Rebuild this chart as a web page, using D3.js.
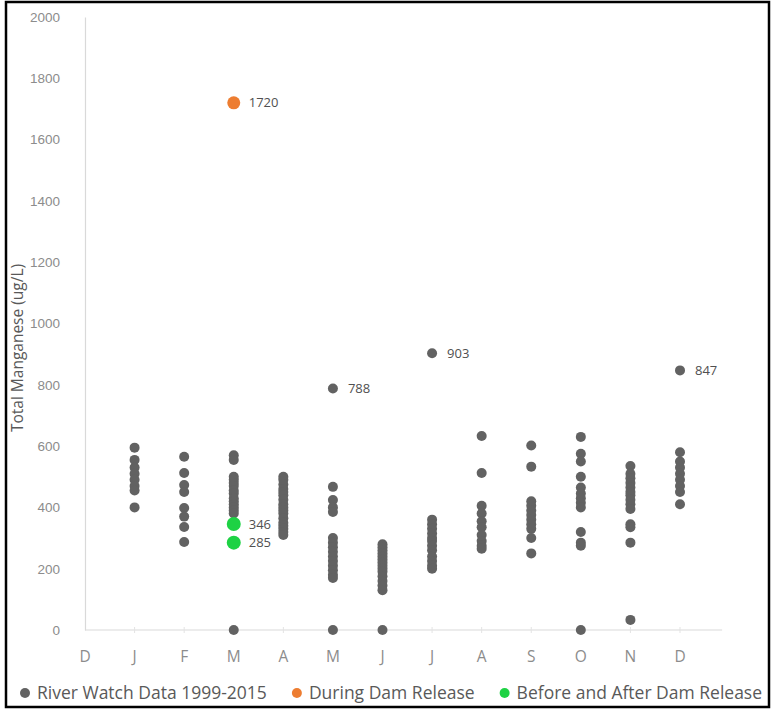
<!DOCTYPE html>
<html>
<head>
<meta charset="utf-8">
<script src="https://cdn.jsdelivr.net/npm/d3@7"></script>
<style>
  html, body { margin: 0; padding: 0; background: #fff; }
  svg { display: block; font-family: "Open Sans", "Liberation Sans", sans-serif; }
</style>
</head>
<body>
<svg id="chart" width="771" height="710"></svg>
<script>
// ---------- DATA ----------
const months = ["D", "J", "F", "M", "A", "M", "J", "J", "A", "S", "O", "N", "D"];
const yTicks = [0, 200, 400, 600, 800, 1000, 1200, 1400, 1600, 1800, 2000];

// River Watch Data 1999-2015, values per month index (1 = Jan ... 12 = Dec)
const riverJan = [595, 555, 530, 510, 490, 470, 455, 400];
const riverFeb = [565, 512, 473, 450, 398, 370, 336, 287];
const riverMar = [570, 555, 500, 490, 480, 470, 455, 445, 430, 420, 410, 400, 390, 380, 0];
const riverApr = [500, 490, 475, 460, 450, 440, 425, 410, 400, 390, 380, 365, 350, 340, 330, 320, 310];
const riverMay = [788, 467, 424, 400, 385, 300, 285, 270, 255, 240, 225, 210, 195, 180, 170, 0];
const riverJun = [280, 270, 260, 250, 240, 230, 220, 210, 200, 190, 175, 160, 145, 130, 0];
const riverJul = [903, 360, 345, 330, 315, 300, 290, 275, 260, 240, 225, 210, 200];
const riverAug = [633, 512, 405, 380, 355, 335, 310, 290, 275, 265];
const riverSep = [602, 533, 420, 405, 390, 375, 360, 345, 330, 300, 250];
const riverOct = [630, 575, 550, 500, 465, 445, 430, 415, 400, 320, 285, 275, 0];
const riverNov = [535, 510, 495, 480, 465, 450, 440, 425, 410, 395, 345, 335, 285, 33];
const riverDec = [847, 580, 550, 530, 510, 490, 470, 450, 410];
const riverByMonth = [riverJan, riverFeb, riverMar, riverApr, riverMay, riverJun,
                      riverJul, riverAug, riverSep, riverOct, riverNov, riverDec];

const duringMonth = [3];
const duringValues = [1720];
const beforeAfterMonth = [3, 3];
const beforeAfterValues = [346, 285];

// labelled outliers of the river watch series
const labelledRiver = [[5, 788], [7, 903], [12, 847]];

const seriesNames = ["River Watch Data 1999-2015", "During Dam Release", "Before and After Dam Release"];
const seriesColors = ["#626262", "#ed7d31", "#1ed244"];

// ---------- LAYOUT ----------
const svg = d3.select("#chart");
const x = d3.scaleLinear().domain([0, 12]).range([85, 680]);
const y = d3.scaleLinear().domain([0, 2000]).range([630, 17]);
const xEnd = x(12.85);

// outer frame
svg.append("rect")
  .attr("x", 6).attr("y", 2).attr("width", 763).attr("height", 705)
  .attr("fill", "#fff").attr("stroke", "#000").attr("stroke-width", 2.5);

// y axis
const yAxis = d3.axisLeft(y).tickValues(yTicks).tickSize(0).tickPadding(25)
  .tickFormat(d3.format("d"));
const gy = svg.append("g").attr("transform", `translate(${x(0)},0)`).call(yAxis);
gy.select(".domain").attr("stroke", "#d9d9d9").attr("stroke-width", 1.2);
gy.selectAll("text").attr("fill", "#8c8c8c").attr("font-size", 13.5);

// x axis
const gx = svg.append("g").attr("transform", `translate(0,${y(0)})`);
gx.append("line").attr("x1", x(0)).attr("x2", xEnd).attr("y1", 0).attr("y2", 0)
  .attr("stroke", "#d9d9d9").attr("stroke-width", 1.2);
gx.selectAll("line.tick").data(months.map((m, i) => i).slice(1))
  .join("line").attr("class", "tick")
  .attr("x1", d => x(d)).attr("x2", d => x(d)).attr("y1", -3).attr("y2", 3)
  .attr("stroke", "#e3e3e3");
gx.selectAll("text").data(months).join("text")
  .attr("x", (d, i) => x(i)).attr("y", 32)
  .attr("text-anchor", "middle").attr("fill", "#8c8c8c").attr("font-size", 15.5)
  .text(d => d);

// y axis title
svg.append("text")
  .attr("transform", `translate(23,${y(920)}) rotate(-90)`)
  .attr("text-anchor", "middle").attr("fill", "#595959").attr("font-size", 15.5)
  .text("Total Manganese (ug/L)");

// ---------- MARKS ----------
const riverPoints = riverByMonth.flatMap((vals, i) => vals.map(v => ({ m: i + 1, v })));
svg.append("g").selectAll("circle").data(riverPoints).join("circle")
  .attr("cx", d => x(d.m)).attr("cy", d => y(d.v)).attr("r", 5)
  .attr("fill", seriesColors[0]);

svg.append("g").selectAll("circle").data(duringValues).join("circle")
  .attr("cx", (d, i) => x(duringMonth[i])).attr("cy", d => y(d)).attr("r", 6.5)
  .attr("fill", seriesColors[1]);

svg.append("g").selectAll("circle").data(beforeAfterValues).join("circle")
  .attr("cx", (d, i) => x(beforeAfterMonth[i])).attr("cy", d => y(d)).attr("r", 7)
  .attr("fill", seriesColors[2]);

// data labels
const labels = labelledRiver.map(([m, v]) => ({ m, v }))
  .concat(duringValues.map((v, i) => ({ m: duringMonth[i], v })))
  .concat(beforeAfterValues.map((v, i) => ({ m: beforeAfterMonth[i], v })));
svg.append("g").selectAll("text").data(labels).join("text")
  .attr("x", d => x(d.m) + 15).attr("y", d => y(d.v)).attr("dy", "0.35em")
  .attr("fill", "#505050").attr("font-size", 13)
  .text(d => d.v);

// ---------- LEGEND ----------
const legend = svg.append("g").attr("transform", "translate(0,693)");
let lx = 25;
seriesNames.forEach((name, i) => {
  legend.append("circle").attr("cx", lx).attr("cy", 0).attr("r", 5).attr("fill", seriesColors[i]);
  const t = legend.append("text").attr("x", lx + 12).attr("y", 0).attr("dy", "0.35em")
    .attr("fill", "#595959").attr("font-size", 17.5).text(name);
  lx += 12 + t.node().getComputedTextLength() + 30;
});
</script>
</body>
</html>
